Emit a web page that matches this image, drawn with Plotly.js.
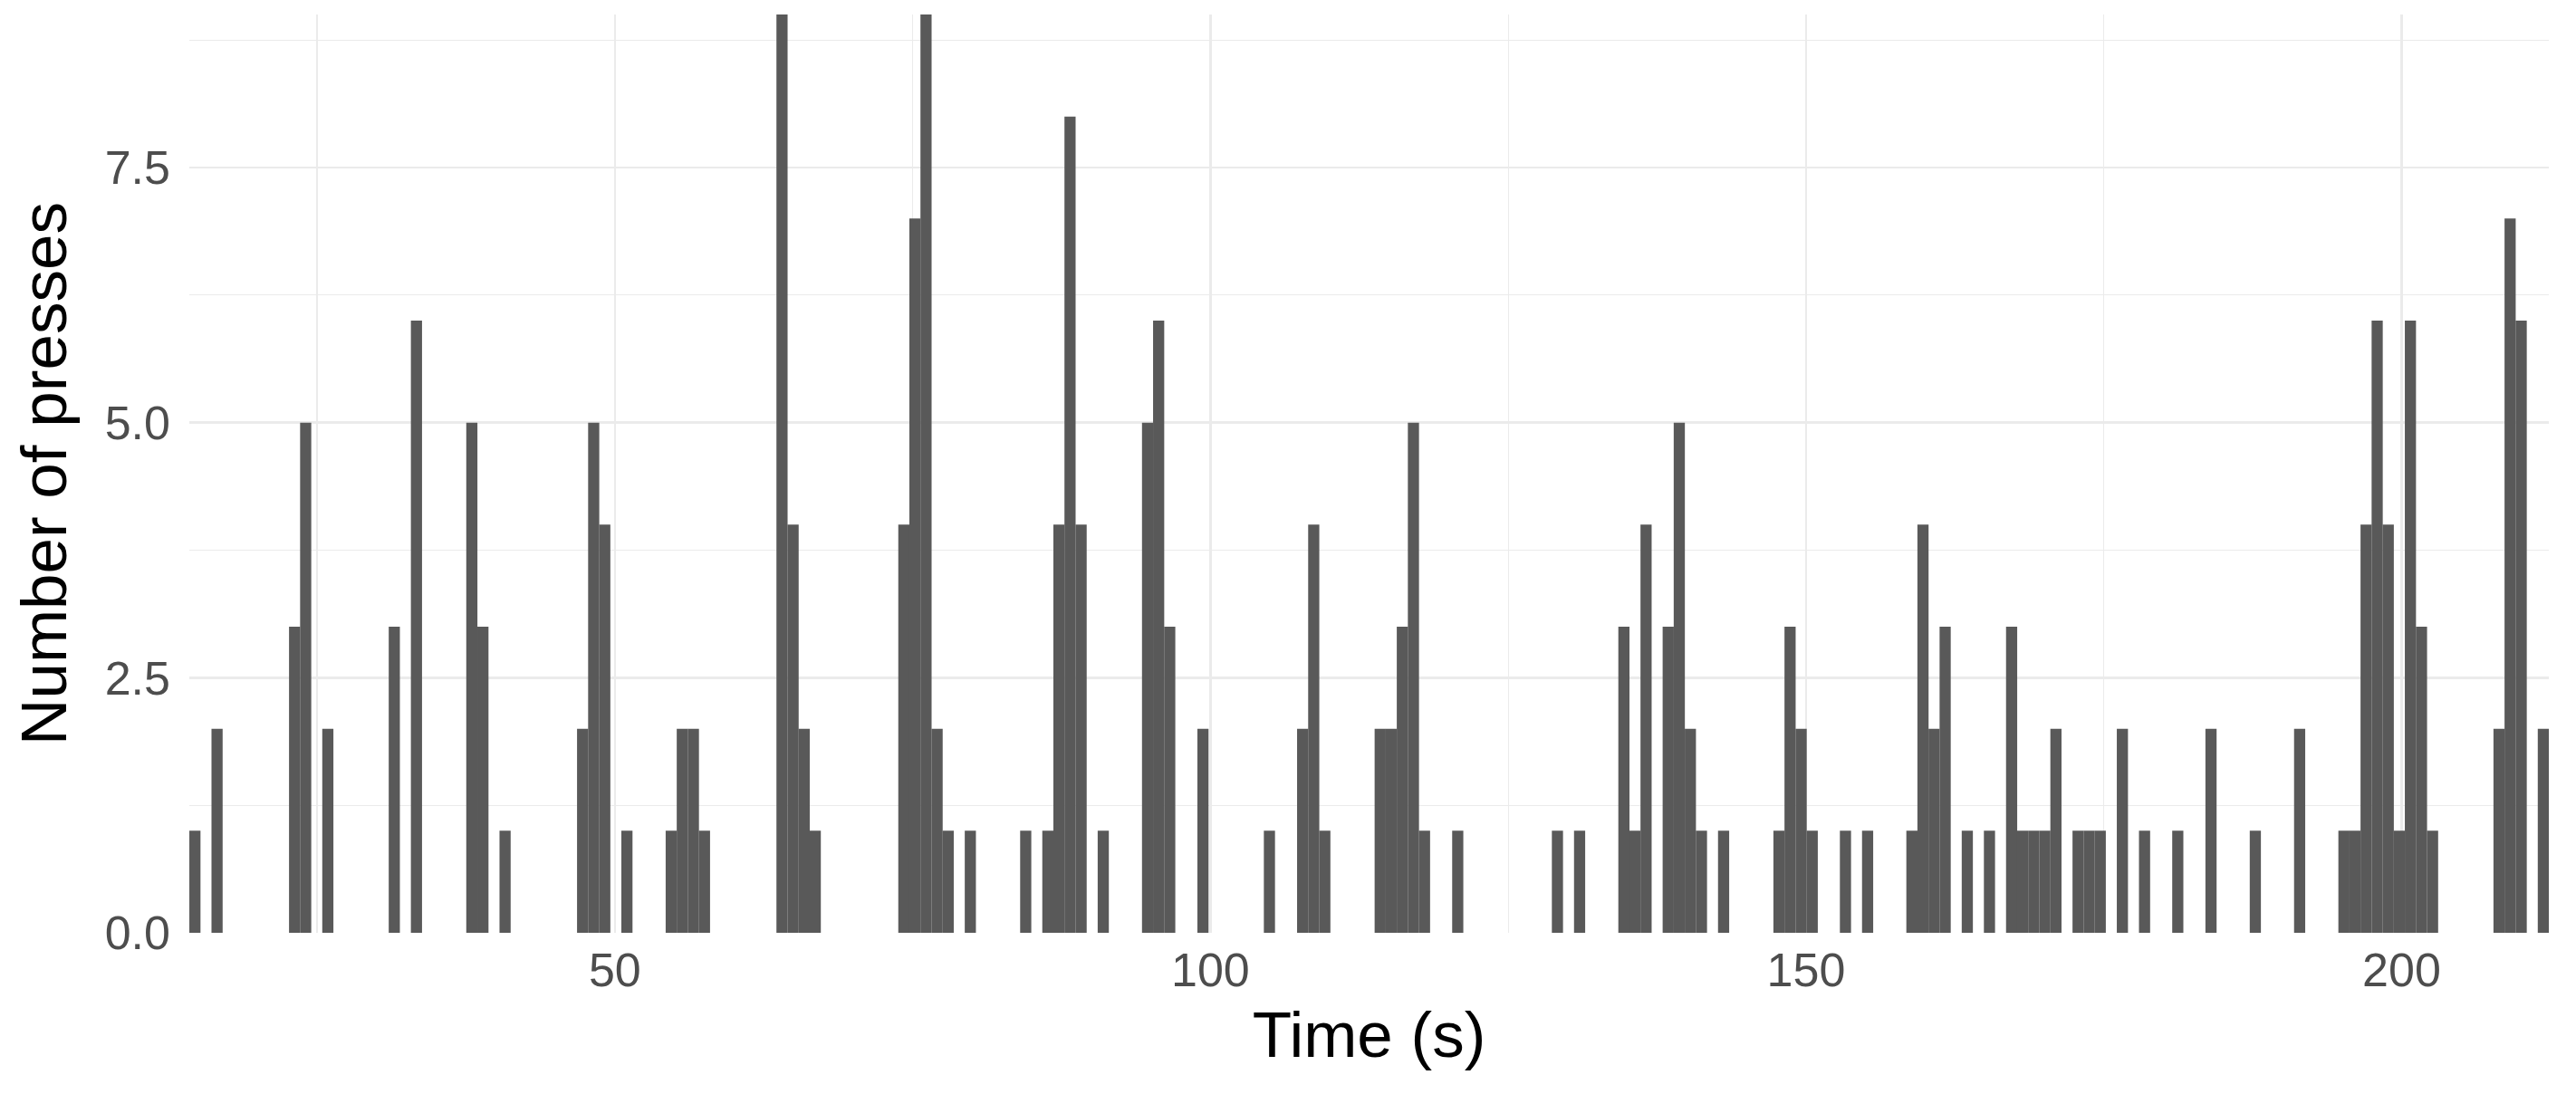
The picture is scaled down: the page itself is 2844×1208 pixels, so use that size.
<!DOCTYPE html>
<html>
<head>
<meta charset="utf-8">
<script src="https://cdn.plot.ly/plotly-3.0.1.min.js"></script>
<style>
  html, body { margin: 0; padding: 0; background: #ffffff; }
  #chart { width: 2844px; height: 1208px; }
</style>
</head>
<body>
<div id="chart"></div>
<script>
// Histogram bin centres (time in seconds)
const binCentres = [
  14.74, 16.60, 23.11, 24.04, 25.90, 31.48, 33.34, 37.99, 38.92, 40.78,
  47.29, 48.22, 49.15, 51.01, 54.73, 55.66, 56.59, 57.52, 64.03, 64.96,
  65.89, 66.82, 74.26, 75.19, 76.12, 77.05, 77.98, 79.84, 84.49, 86.35,
  87.28, 88.21, 89.14, 91.00, 94.72, 95.65, 96.58, 99.37, 104.95, 107.74,
  108.67, 109.60, 114.25, 115.18, 116.11, 117.04, 117.97, 120.76, 129.13, 130.99,
  134.71, 135.64, 136.57, 138.43, 139.36, 140.29, 141.22, 143.08, 147.73, 148.66,
  149.59, 150.52, 153.31, 155.17, 158.89, 159.82, 160.75, 161.68, 163.54, 165.40,
  167.26, 168.19, 169.12, 170.05, 170.98, 172.84, 173.77, 174.70, 176.56, 178.42,
  181.21, 184.00, 187.72, 191.44, 195.16, 196.09, 197.02, 197.95, 198.88, 199.81,
  200.74, 201.67, 202.60, 208.18, 209.11, 210.04, 211.90
];
// Number of presses in each bin
const pressCounts = [
  1, 2, 3, 5, 2, 3, 6, 5, 3, 1,
  2, 5, 4, 1, 1, 2, 2, 1, 9, 4,
  2, 1, 4, 7, 9, 2, 1, 1, 1, 1,
  4, 8, 4, 1, 5, 6, 3, 2, 1, 2,
  4, 1, 2, 2, 3, 5, 1, 1, 1, 1,
  3, 1, 4, 3, 5, 2, 1, 1, 1, 3,
  2, 1, 1, 1, 1, 4, 2, 3, 1, 1,
  3, 1, 1, 1, 2, 1, 1, 1, 2, 1,
  1, 2, 1, 2, 1, 1, 4, 6, 4, 1,
  6, 3, 1, 2, 7, 6, 2
];
const binWidth = 0.93;
const xRange = [14.27, 212.36];
const yRange = [0, 9];
const xTicks = [50, 100, 150, 200];
const yTicks = [0, 2.5, 5, 7.5];
const yTickText = ['0.0', '2.5', '5.0', '7.5'];
const xTitle = 'Time (s)';
const yTitle = 'Number of presses';

const trace = {
  type: 'bar',
  x: binCentres,
  y: pressCounts,
  width: binCentres.map(() => binWidth + 0.006),
  marker: { color: '#595959', line: { width: 0 } },
  hoverinfo: 'x+y'
};

const gridCol = '#EBEBEB';
const layout = {
  width: 2844,
  height: 1208,
  paper_bgcolor: '#ffffff',
  plot_bgcolor: '#ffffff',
  margin: { l: 209, r: 30, t: 16, b: 178 },
  showlegend: false,
  font: { family: 'Liberation Sans, Arial, sans-serif', color: '#4D4D4D' },
  xaxis: {
    range: xRange,
    tickmode: 'array',
    tickvals: xTicks,
    ticktext: xTicks.map(String),
    ticks: '',
    showline: false,
    zeroline: false,
    showgrid: true,
    gridcolor: gridCol,
    gridwidth: 2.6,
    minor: { tickmode: 'linear', tick0: 0, dtick: 25, showgrid: true, gridcolor: gridCol, gridwidth: 1.3 },
    tickfont: { size: 52, color: '#4D4D4D' },
    ticklabelstandoff: 6,
    title: { text: xTitle, font: { size: 71, color: '#000000' }, standoff: 18 },
    automargin: false,
    fixedrange: true
  },
  yaxis: {
    range: yRange,
    tickmode: 'array',
    tickvals: yTicks,
    ticktext: yTickText,
    ticks: '',
    showline: false,
    zeroline: false,
    showgrid: true,
    gridcolor: gridCol,
    gridwidth: 2.6,
    minor: { tickmode: 'linear', tick0: 0, dtick: 1.25, showgrid: true, gridcolor: gridCol, gridwidth: 1.3 },
    tickfont: { size: 52, color: '#4D4D4D' },
    ticklabelstandoff: 20,
    title: { text: yTitle, font: { size: 71, color: '#000000' }, standoff: 18 },
    automargin: false,
    fixedrange: true
  }
};

Plotly.newPlot('chart', [trace], layout, { staticPlot: true, displayModeBar: false });
</script>
</body>
</html>
